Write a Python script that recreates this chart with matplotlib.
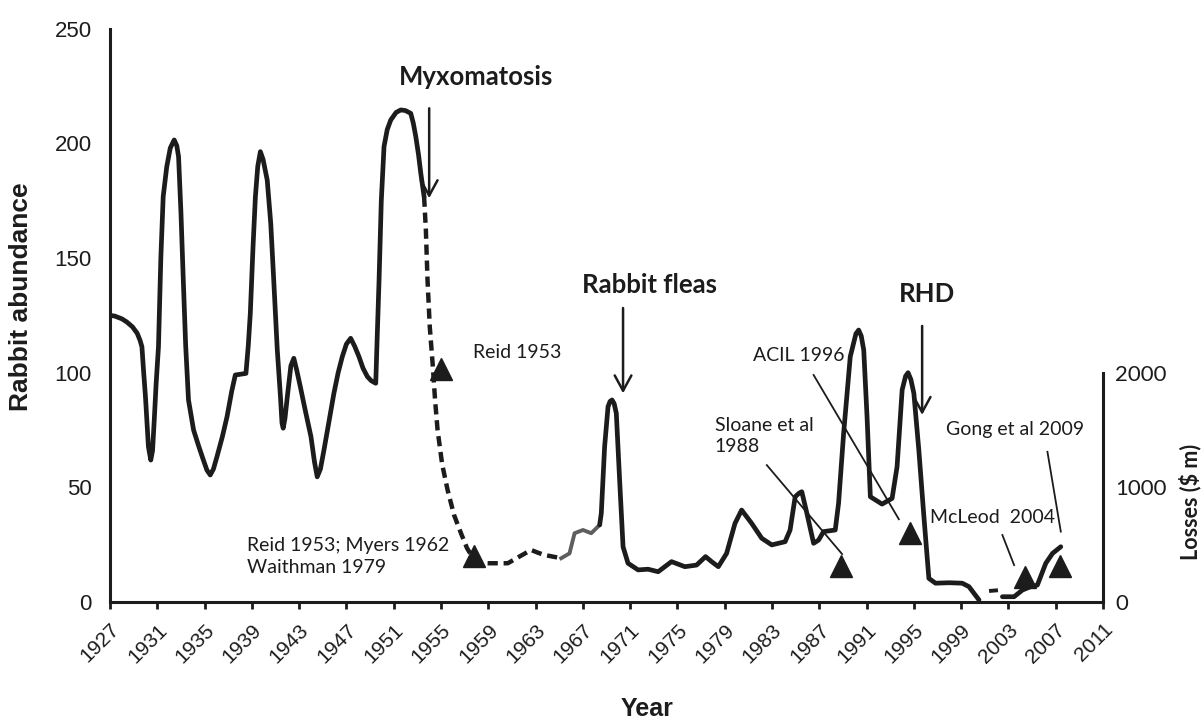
import matplotlib
matplotlib.use("Agg")
import matplotlib.pyplot as plt

# ---------------- data ----------------
# Rabbit abundance, segment 1 (solid, pre-myxomatosis)
seg1_years = [1927.0, 1927.4, 1928.0, 1928.4, 1928.9, 1929.3, 1929.55, 1929.7, 1929.85, 1930.0,
              1930.25, 1930.45, 1930.6, 1930.75, 1930.9, 1931.1, 1931.3, 1931.5, 1931.8, 1932.1,
              1932.43, 1932.65, 1932.8, 1933.0, 1933.2, 1933.4, 1933.64, 1934.07, 1934.5, 1934.9,
              1935.2, 1935.48, 1935.75, 1936.05, 1936.5, 1936.9, 1937.3, 1937.6, 1938.0, 1938.5,
              1938.7, 1938.87, 1939.1, 1939.3, 1939.5, 1939.72, 1939.95, 1940.3, 1940.6, 1940.85,
              1941.15, 1941.42, 1941.55, 1941.65, 1941.8, 1942.0, 1942.3, 1942.55, 1942.8, 1943.1,
              1943.5, 1944.0, 1944.3, 1944.53, 1944.8, 1945.1, 1945.5, 1945.94, 1946.3, 1946.65,
              1947.0, 1947.36, 1947.7, 1948.06, 1948.4, 1948.77, 1949.1, 1949.48, 1949.6, 1949.76,
              1949.95, 1950.18, 1950.45, 1950.75, 1951.2, 1951.6, 1952.0, 1952.44, 1952.65, 1952.87,
              1953.1, 1953.29, 1953.57]
seg1_vals = [125.0, 124.7, 123.5, 122.2, 120.0, 117.2, 114.0, 111.3, 100.0, 89.5,
             67.7, 61.9, 66.0, 80.0, 95.0, 111.3, 150.0, 176.8, 189.8, 198.0,
             201.5, 199.0, 194.2, 170.0, 140.4, 112.0, 88.1, 75.0, 68.0, 61.9,
             57.5, 55.4, 58.0, 63.4, 72.0, 80.8, 92.0, 99.0, 99.3, 99.7,
             112.0, 126.0, 155.0, 176.8, 190.0, 196.4, 193.0, 184.0, 165.0, 140.4,
             110.0, 89.5, 78.0, 75.8, 80.0, 89.5, 103.0, 106.3, 101.0, 93.9,
             84.0, 72.1, 61.0, 54.6, 58.0, 66.3, 78.0, 91.0, 100.0, 107.0,
             112.5, 115.0, 111.5, 107.0, 102.0, 98.3, 96.5, 95.4, 115.0, 140.4,
             175.0, 198.6, 206.0, 210.2, 213.5, 214.6, 214.3, 213.1, 209.0, 202.9,
             195.0, 187.0, 176.8]

# segment 2 (dashed, myxomatosis crash)
seg2_years = [1953.57, 1953.72, 1953.86, 1954.05, 1954.29, 1954.5, 1954.71, 1955.1, 1955.56,
              1956.1, 1956.69, 1957.2, 1957.81, 1958.4, 1958.95, 1960.65, 1961.7, 1962.62,
              1963.2, 1963.75, 1965.17]
seg2_vals = [176.8, 162.2, 140.4, 120.0, 104.1, 88.0, 75.0, 60.0, 48.8,
             38.0, 30.0, 23.5, 18.3, 17.0, 16.9, 16.9, 20.0, 22.7,
             21.5, 20.5, 19.1]

# segment 3 (grey solid)
seg3_years = [1965.17, 1965.87, 1966.3, 1967.01, 1967.71, 1968.42]
seg3_vals = [19.1, 21.2, 30.0, 31.4, 30.0, 33.6]

# segment 4 (solid, fleas and RHD)
seg4_years = [1968.42, 1968.56, 1968.84, 1969.13, 1969.3, 1969.47, 1969.65, 1969.83, 1970.11,
              1970.4, 1970.82, 1971.67, 1972.52, 1973.37, 1974.5, 1975.63, 1976.62, 1977.38,
              1977.89, 1978.46, 1979.16, 1979.87, 1980.43, 1981.28, 1982.13, 1982.98, 1984.11,
              1984.53, 1984.96, 1985.3, 1985.52, 1985.95, 1986.52, 1986.94, 1987.36, 1988.35,
              1988.63, 1989.06, 1989.62, 1990.1, 1990.33, 1990.55, 1990.76, 1991.04, 1991.32,
              1992.31, 1993.16, 1993.58, 1994.01, 1994.3, 1994.51, 1994.75, 1995.0, 1995.42,
              1995.85, 1996.27, 1996.83, 1997.97, 1999.09, 1999.66, 2000.51]
seg4_vals = [33.6, 38.7, 67.7, 85.2, 87.5, 88.1, 86.5, 82.3, 53.2,
             24.1, 16.9, 14.0, 14.3, 13.2, 17.6, 15.4, 16.1, 19.8,
             17.6, 15.4, 21.2, 34.3, 40.1, 34.3, 27.8, 24.9, 26.3,
             31.4, 45.9, 47.5, 48.1, 38.7, 25.6, 27.0, 30.7, 31.4,
             43.0, 73.6, 107.0, 117.0, 118.6, 116.0, 109.9, 80.8, 45.9,
             42.7, 45.2, 59.0, 92.5, 98.5, 100.0, 97.0, 91.0, 66.3,
             37.2, 10.3, 8.2, 8.4, 8.2, 6.7, 0.9]

# segment 5 (short dash)
seg5_years = [2001.36, 2002.3]
seg5_vals = [4.8, 5.2]

# segment 6 (solid, recent)
seg6_years = [2002.49, 2003.48, 2004.18, 2004.89, 2005.45, 2006.16, 2006.73, 2007.43]
seg6_vals = [2.3, 2.3, 5.2, 6.7, 7.4, 16.9, 21.2, 24.1]

# Losses ($ m) estimates, right axis
loss_years = [1955.0, 1957.8, 1988.8, 1994.7, 2004.4, 2007.4]
loss_vals = [2030, 400, 310, 606, 214, 314]

# annotations
sources = ["Reid 1953", "Reid 1953; Myers 1962\nWaithman 1979", "Sloane et al\n1988",
           "ACIL 1996", "McLeod  2004", "Gong et al 2009"]
events = ["Myxomatosis", "Rabbit fleas", "RHD"]
event_years = [1954.0, 1970.4, 1995.7]

year_ticks = list(range(1927, 2012, 4))
left_ticks = [0, 50, 100, 150, 200, 250]
right_ticks = [0, 1000, 2000]

# ---------------- figure ----------------
W, H = 1201, 719
fig = plt.figure(figsize=(W / 100, H / 100), dpi=100)
x0, x1 = 110, 1103
y0, ytop = 602, 28.75
ax = fig.add_axes([x0 / W, (H - y0) / H, (x1 - x0) / W, (y0 - ytop) / H])
ax.set_xlim(1927, 2011)
ax.set_ylim(0, 250)

ink = "#1c1c1c"
arial = "Liberation Sans"
cal = "Lato"

lw = 3.4
ax.plot(seg1_years, seg1_vals, color=ink, lw=lw, solid_capstyle="round", solid_joinstyle="round")
ax.plot(seg2_years, seg2_vals, color=ink, lw=3.2, dashes=(2.3, 1.3), dash_capstyle="butt")
ax.plot(seg3_years, seg3_vals, color="#5e5e5e", lw=2.8, solid_joinstyle="round")
ax.plot(seg4_years, seg4_vals, color=ink, lw=lw, solid_capstyle="round", solid_joinstyle="round")
ax.plot(seg5_years, seg5_vals, color=ink, lw=2.8, dashes=(2.3, 1.3))
ax.plot(seg6_years, seg6_vals, color=ink, lw=lw, solid_capstyle="round", solid_joinstyle="round")

# spines / ticks
for s in ["top", "right"]:
    ax.spines[s].set_visible(False)
for s in ["left", "bottom"]:
    ax.spines[s].set_linewidth(2.2)
    ax.spines[s].set_color(ink)
ax.set_yticks(left_ticks)
ax.set_yticklabels([str(t) for t in left_ticks], fontsize=16, family=arial, color=ink)
ax.tick_params(axis="y", length=0, pad=13)
ax.set_xticks(year_ticks)
ax.set_xticklabels([str(t) for t in year_ticks], rotation=45, ha="right", va="top",
                   rotation_mode="anchor", fontsize=15, family=arial, color=ink)
ax.tick_params(axis="x", length=5, width=2, color=ink, pad=8)

ax.set_ylabel("Rabbit abundance", fontsize=19, fontweight="bold", family=arial, color=ink,
              labelpad=0)
ax.yaxis.set_label_coords(-0.0775, 0.532)
fig.text(647 / W, 1 - 716 / H, "Year", ha="center", va="baseline", fontsize=18,
         fontweight="bold", family=arial, color=ink)

# right axis
ax2 = ax.twinx()
ax2.set_ylim(0, 5000)
for s in ["top", "left", "bottom"]:
    ax2.spines[s].set_visible(False)
ax2.spines["right"].set_bounds(0, 2000)
ax2.spines["right"].set_linewidth(2.2)
ax2.spines["right"].set_color(ink)
ax2.set_yticks(right_ticks)
ax2.set_yticklabels([str(t) for t in right_ticks], fontsize=16, family=cal, color=ink)
ax2.tick_params(axis="y", length=0, pad=9)
fig.text(1190 / W, 1 - 502 / H, "Losses ($ m)", rotation=90, ha="center", va="center",
         fontsize=15.5, fontweight="bold", family=cal, color=ink)

ax2.plot(loss_years, loss_vals, linestyle="none", marker="^", markersize=15.5,
         color=ink, clip_on=False)

# event labels and arrows
ev_text_x = [1957.96, 1972.66, 1996.15]
ev_text_y = [225.5, 134.6, 131.0]
ev_top = [215.3, 128.2, 120.4]
ev_tip = [176.1, 91.0, 81.6]
for name, ex, tx, ty, top, tip in zip(events, event_years, ev_text_x, ev_text_y, ev_top, ev_tip):
    ax.text(tx, ty, name, ha="center", va="baseline", fontsize=18.5, fontweight="bold",
            family=cal, color=ink)
    ax.annotate("", xy=(ex, tip), xytext=(ex, top),
                arrowprops=dict(arrowstyle="->,head_length=0.55,head_width=0.3",
                                lw=1.8, color=ink, mutation_scale=20,
                                shrinkA=0, shrinkB=0))

# source labels (y = baseline of the last line)
src_x = [1957.68, 1938.59, 1978.17, 1981.43, 1996.35, 1997.68]
src_y = [106.3, 12.8, 65.5, 105.1, 34.6, 72.8]
for txt, sx, sy in zip(sources, src_x, src_y):
    ax.text(sx, sy, txt, ha="left", va="baseline", fontsize=14, family=cal, color=ink,
            linespacing=1.3)

# leader lines
lead_x0 = [1982.56, 1986.52, 2002.49, 2006.30]
lead_y0 = [59.7, 99.0, 29.2, 65.5]
lead_x1 = [1988.93, 1993.73, 2003.48, 2007.43]
lead_y1 = [20.9, 36.1, 16.1, 30.7]
for a, b, c, d in zip(lead_x0, lead_y0, lead_x1, lead_y1):
    ax.plot([a, c], [b, d], color=ink, lw=1.3)

fig.savefig("out.png", dpi=100)
